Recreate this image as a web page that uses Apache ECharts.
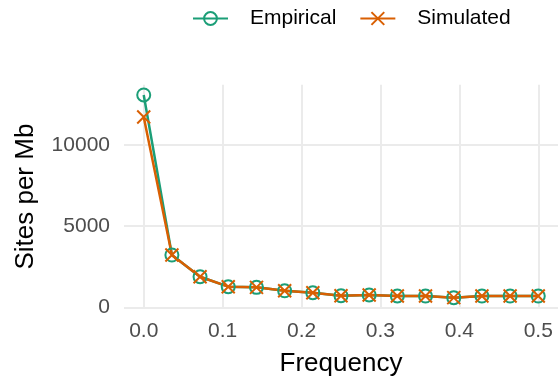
<!DOCTYPE html>
<html>
<head>
<meta charset="utf-8">
<script src="https://cdn.jsdelivr.net/npm/echarts@6/dist/echarts.min.js"></script>
<style>
html,body{margin:0;padding:0;background:#fff;}
#chart{width:558px;height:387px;}
</style>
</head>
<body>
<div id="chart"></div>
<script>
// Data
const frequency = [0, 0.0357, 0.0714, 0.1071, 0.1429, 0.1786, 0.2143, 0.25, 0.2857, 0.3214, 0.3571, 0.3929, 0.4286, 0.4643, 0.5];
const empirical = [13080, 3230, 1895, 1280, 1240, 1030, 910, 725, 770, 710, 705, 605, 705, 705, 705];
const simulated = [11720, 3230, 1895, 1280, 1240, 1030, 910, 725, 770, 710, 705, 605, 705, 705, 705];
const xTicks = [0, 0.1, 0.2, 0.3, 0.4, 0.5];
const yTicks = [0, 5000, 10000];
const seriesNames = ['Empirical', 'Simulated'];

const FONT = "'Liberation Sans', Arial, sans-serif";
const GREEN = '#1B9E77';
const ORANGE = '#D95F02';

function pairs(xs, ys) { return xs.map((x, i) => [x, ys[i]]); }

const chart = echarts.init(document.getElementById('chart'), null, {renderer: 'canvas'});
chart.setOption({
  animation: false,
  backgroundColor: '#fff',
  textStyle: {fontFamily: FONT},
  legend: {
    data: seriesNames,
    left: 187,
    top: 3,
    itemWidth: 35,
    itemHeight: 16,
    itemGap: 23,
    textStyle: {fontFamily: FONT, fontSize: 21, color: '#000', padding: [0, 0, 0, 17]}
  },
  grid: {left: 124, width: 436, top: 84.7, height: 223.8, containLabel: false},
  xAxis: {
    type: 'value',
    min: -0.025,
    max: 0.525,
    name: 'Frequency',
    nameLocation: 'middle',
    nameGap: 42,
    nameTextStyle: {fontFamily: FONT, fontSize: 26, color: '#000'},
    axisLine: {show: false},
    axisTick: {show: false, customValues: xTicks},
    axisLabel: {customValues: xTicks, fontFamily: FONT, fontSize: 21, color: '#4D4D4D', margin: 12,
      formatter: v => Number(v).toFixed(1)},
    splitLine: {show: true, lineStyle: {color: '#EBEBEB', width: 2}}
  },
  yAxis: {
    type: 'value',
    min: -62,
    max: 13711,
    name: 'Sites per Mb',
    nameLocation: 'middle',
    nameGap: 85,
    nameTextStyle: {fontFamily: FONT, fontSize: 26, color: '#000'},
    axisLine: {show: false},
    axisTick: {show: false, customValues: yTicks},
    axisLabel: {customValues: yTicks, fontFamily: FONT, fontSize: 21, color: '#4D4D4D', margin: 14,
      formatter: v => String(Math.round(v))},
    splitLine: {show: true, lineStyle: {color: '#EBEBEB', width: 2}}
  },
  series: [
    {
      name: seriesNames[0],
      type: 'line',
      data: pairs(frequency, empirical),
      symbol: 'circle',
      symbolSize: 13,
      lineStyle: {color: GREEN, width: 2.5},
      itemStyle: {color: 'rgba(0,0,0,0)', borderColor: GREEN, borderWidth: 2},
      emphasis: {disabled: true}
    },
    {
      name: seriesNames[1],
      type: 'line',
      data: pairs(frequency, simulated),
      symbol: 'path://M0,0L10,10M0,10L10,0',
      symbolSize: 13,
      lineStyle: {color: ORANGE, width: 2.5},
      itemStyle: {color: 'rgba(0,0,0,0)', borderColor: ORANGE, borderWidth: 2},
      emphasis: {disabled: true}
    }
  ]
});
</script>
</body>
</html>
